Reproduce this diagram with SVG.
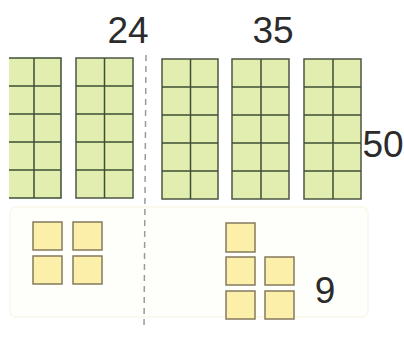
<svg xmlns="http://www.w3.org/2000/svg" width="404" height="338" viewBox="0 0 404 338">
<defs>
<style>
.bar{fill:#e2eeb0;stroke:#4b5742;stroke-width:1.5}
.grid{stroke:#3e4f33;stroke-width:1.5;fill:none}
.unit{fill:#fbefaa;stroke:#857a5e;stroke-width:1.5}
.num{font-family:"Liberation Sans",Arial,sans-serif;font-size:37px;fill:#2b2b2b;text-anchor:middle}
</style>
</defs>
<rect width="404" height="338" fill="#ffffff"/>
<rect x="10" y="207" width="358" height="110" rx="6" fill="#fefefb" stroke="#faf7e8" stroke-width="1.5"/>
<g id="connectors">
<line x1="146" y1="55" x2="144" y2="330" stroke="#9a9a9a" stroke-width="1.5" stroke-dasharray="6,5"/>
</g>
<g id="bar1">
<rect x="9" y="58" width="52" height="140" fill="#e2eeb0"/>
<path class="grid" d="M9 58H61V198H9M34 58V198M9 86H61M9 114H61M9 142H61M9 170H61"/>
</g>
<g id="bar2">
<rect class="bar" x="76" y="58" width="57" height="140"/>
<path class="grid" d="M104.5 58V198M76 86H133M76 114H133M76 142H133M76 170H133"/>
</g>
<g id="bar3">
<rect class="bar" x="162" y="59" width="56" height="140"/>
<path class="grid" d="M190.5 59V199M162 87H218M162 115H218M162 143H218M162 171H218"/>
</g>
<g id="bar4">
<rect class="bar" x="232" y="59" width="57" height="140"/>
<path class="grid" d="M261 59V199M232 87H289M232 115H289M232 143H289M232 171H289"/>
</g>
<g id="bar5">
<rect class="bar" x="304" y="59" width="57" height="140"/>
<path class="grid" d="M333 59V199M304 87H361M304 115H361M304 143H361M304 171H361"/>
</g>
<g id="units-left">
<rect class="unit" x="33" y="222" width="29" height="28"/>
<rect class="unit" x="73" y="222" width="29" height="28"/>
<rect class="unit" x="33" y="256" width="29" height="28"/>
<rect class="unit" x="73" y="256" width="29" height="28"/>
</g>
<g id="units-right">
<rect class="unit" x="226" y="223" width="29" height="29"/>
<rect class="unit" x="226" y="257" width="29" height="28"/>
<rect class="unit" x="265" y="257" width="29" height="28"/>
<rect class="unit" x="226" y="291" width="29" height="28"/>
<rect class="unit" x="265" y="291" width="29" height="28"/>
</g>
<g id="labels">
<text class="num" x="128" y="43">24</text>
<text class="num" x="273" y="43">35</text>
<text class="num" x="383" y="157">50</text>
<text class="num" x="325" y="303">9</text>
</g>
</svg>
